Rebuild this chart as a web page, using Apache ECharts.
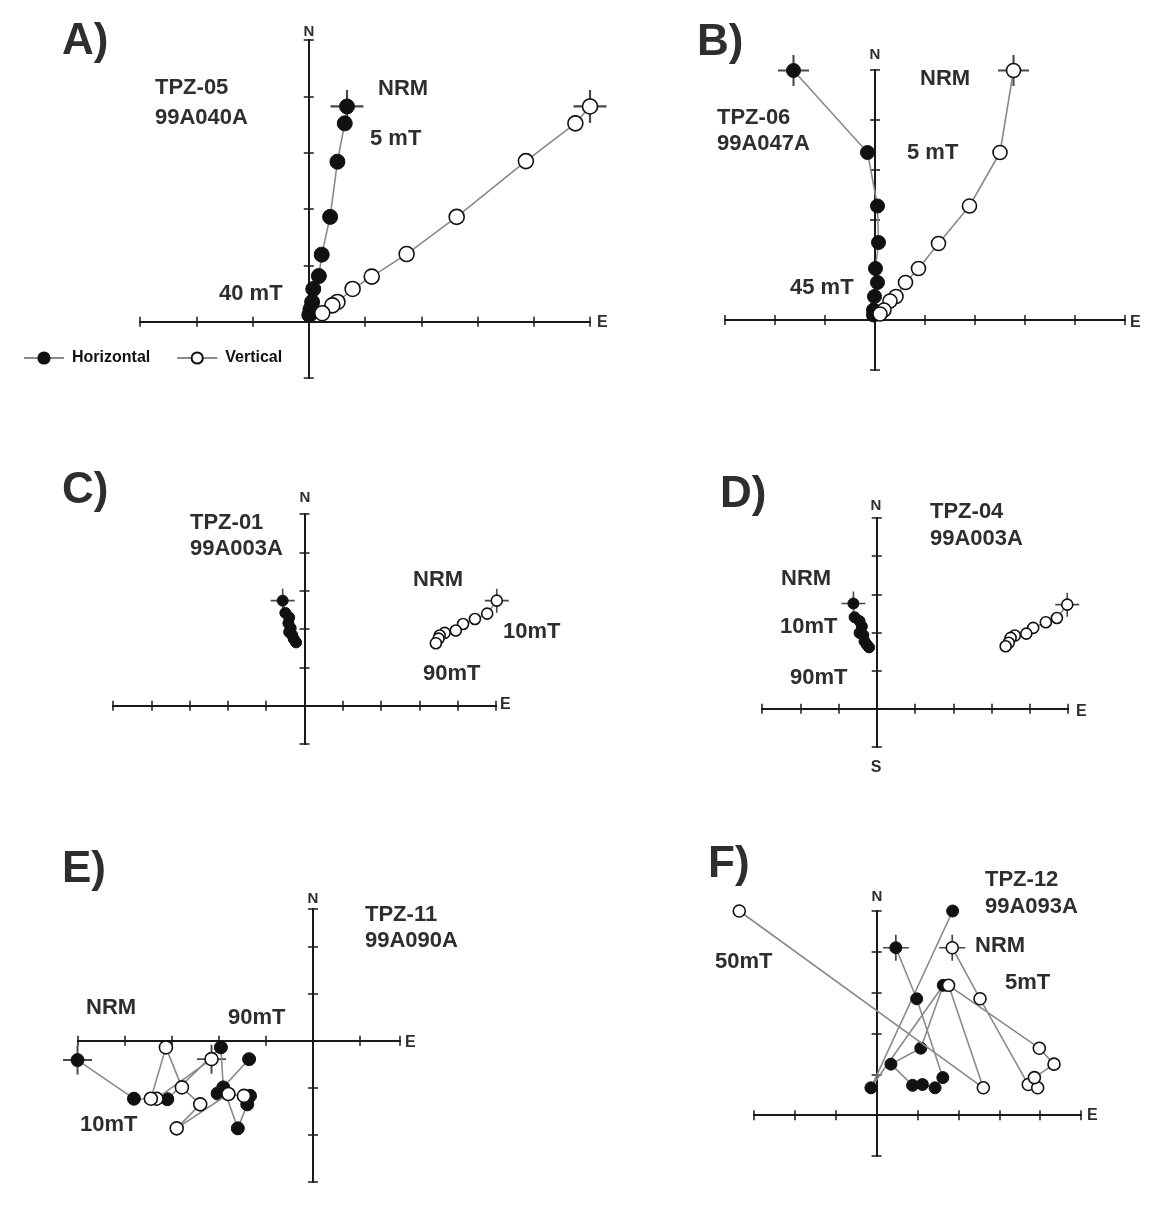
<!DOCTYPE html>
<html>
<head>
<meta charset="utf-8">
<script src="https://cdn.jsdelivr.net/npm/echarts@6/dist/echarts.min.js"></script>
<style>
  html, body { margin: 0; background: #fff; }
  #chart { width: 1164px; height: 1205px; }
</style>
</head>
<body>
<div id="chart"></div>
<script>
// values are in axis tick units, [east, north/up], first point = NRM
// A) TPZ-05 99A040A
var aHorizontal = [[0.68, 3.82], [0.64, 3.52], [0.51, 2.84], [0.38, 1.86], [0.23, 1.19], [0.18, 0.81], [0.08, 0.58], [0.06, 0.35], [0.03, 0.22], [0.01, 0.12]];
var aVertical = [[5.0, 3.82], [4.74, 3.52], [3.86, 2.85], [2.63, 1.86], [1.74, 1.20], [1.12, 0.80], [0.78, 0.58], [0.51, 0.35], [0.42, 0.29], [0.24, 0.15]];
// B) TPZ-06 99A047A
var bHorizontal = [[-1.63, 4.99], [-0.15, 3.35], [0.05, 2.28], [0.07, 1.55], [0.01, 1.03], [0.05, 0.75], [-0.01, 0.47], [-0.03, 0.20], [-0.03, 0.10]];
var bVertical = [[2.77, 4.99], [2.50, 3.35], [1.89, 2.28], [1.27, 1.53], [0.87, 1.03], [0.61, 0.75], [0.42, 0.47], [0.30, 0.38], [0.18, 0.20], [0.10, 0.12]];
// C) TPZ-01 99A003A
var cHorizontal = [[-0.57, 2.74], [-0.50, 2.42], [-0.40, 2.30], [-0.42, 2.15], [-0.36, 2.02], [-0.40, 1.92], [-0.32, 1.84], [-0.28, 1.74], [-0.22, 1.65]];
var cVertical = [[5.02, 2.74], [4.77, 2.40], [4.45, 2.26], [4.14, 2.13], [3.95, 1.96], [3.66, 1.90], [3.53, 1.83], [3.50, 1.75], [3.43, 1.63]];
// D) TPZ-04 99A003A
var dHorizontal = [[-0.61, 2.76], [-0.58, 2.40], [-0.45, 2.30], [-0.39, 2.16], [-0.45, 1.99], [-0.35, 1.93], [-0.32, 1.77], [-0.26, 1.68], [-0.20, 1.61]];
var dVertical = [[4.98, 2.73], [4.71, 2.38], [4.42, 2.27], [4.09, 2.12], [3.91, 1.97], [3.61, 1.92], [3.50, 1.86], [3.45, 1.73], [3.37, 1.64]];
// E) TPZ-11 99A090A
var eHorizontal = [[-5.01, -0.41], [-3.81, -1.23], [-3.10, -1.24], [-1.96, -0.14], [-1.91, -0.99], [-1.60, -1.86], [-1.40, -1.35], [-1.34, -1.17], [-2.03, -1.12], [-1.36, -0.39]];
var eVertical = [[-2.16, -0.39], [-3.33, -1.23], [-3.45, -1.23], [-3.13, -0.14], [-2.79, -0.99], [-2.40, -1.35], [-2.90, -1.86], [-1.80, -1.13], [-1.47, -1.17]];
// F) TPZ-12 99A093A
var fHorizontal = [[0.47, 4.10], [0.98, 2.85], [1.62, 0.92], [1.43, 0.67], [1.12, 0.75], [0.88, 0.73], [0.35, 1.25], [1.08, 1.64], [1.63, 3.18], [-0.14, 0.67], [1.86, 5.00]];
var fVertical = [[1.85, 4.10], [2.53, 2.85], [3.71, 0.75], [3.94, 0.67], [3.86, 0.92], [4.34, 1.25], [3.98, 1.64], [1.76, 3.18], [2.61, 0.67], [-3.36, 5.00]];

// axis extents per panel (tick units)
var xRanges = [[-3, 5], [-3, 5], [-5, 5], [-3, 5], [-5, 1.85], [-3, 5]];
var yRanges = [[-1, 5], [-1, 5], [-1, 5], [-1, 5], [-3, 2.8], [-1, 5]];

// page layout
var panels = [
  { grid: { left: 140, top: 40, width: 450, height: 338 }, h: aHorizontal, v: aVertical, size: 15 },
  { grid: { left: 725, top: 70, width: 400, height: 300 }, h: bHorizontal, v: bVertical, size: 14 },
  { grid: { left: 113, top: 514, width: 383, height: 230 }, h: cHorizontal, v: cVertical, size: 11 },
  { grid: { left: 762, top: 518, width: 306, height: 229 }, h: dHorizontal, v: dVertical, size: 11 },
  { grid: { left: 78, top: 909, width: 322, height: 273 }, h: eHorizontal, v: eVertical, size: 13 },
  { grid: { left: 754, top: 911, width: 327, height: 245 }, h: fHorizontal, v: fVertical, size: 12 }
];

var labels = [
  ['A)', 62, 42, 44], ['N', 309, 32, 15, 'center'], ['TPZ-05', 155, 88, 22], ['99A040A', 155, 118, 22],
  ['NRM', 378, 89, 22], ['5 mT', 370, 139, 22], ['40 mT', 219, 294, 22], ['E', 597, 323, 16],
  ['B)', 697, 43, 44], ['N', 875, 55, 15, 'center'], ['NRM', 920, 79, 22], ['TPZ-06', 717, 118, 22],
  ['99A047A', 717, 144, 22], ['5 mT', 907, 153, 22], ['45 mT', 790, 288, 22], ['E', 1130, 323, 16],
  ['C)', 62, 491, 44], ['N', 305, 498, 15, 'center'], ['TPZ-01', 190, 523, 22], ['99A003A', 190, 549, 22],
  ['NRM', 413, 580, 22], ['10mT', 503, 632, 22], ['90mT', 423, 674, 22], ['E', 500, 705, 16],
  ['D)', 720, 495, 44], ['N', 876, 506, 15, 'center'], ['TPZ-04', 930, 512, 22], ['99A003A', 930, 539, 22],
  ['NRM', 781, 579, 22], ['10mT', 780, 627, 22], ['90mT', 790, 678, 22], ['E', 1076, 712, 16], ['S', 876, 768, 16, 'center'],
  ['E)', 62, 870, 44], ['N', 313, 899, 15, 'center'], ['TPZ-11', 365, 915, 22], ['99A090A', 365, 941, 22],
  ['NRM', 86, 1008, 22], ['90mT', 228, 1018, 22], ['10mT', 80, 1125, 22], ['E', 405, 1043, 16],
  ['F)', 708, 865, 44], ['N', 877, 897, 15, 'center'], ['TPZ-12', 985, 880, 22], ['99A093A', 985, 907, 22],
  ['NRM', 975, 946, 22], ['5mT', 1005, 983, 22], ['50mT', 715, 962, 22], ['E', 1087, 1116, 16]
];

var FONT = '"Liberation Sans", Arial, Helvetica, sans-serif';
var CROSS = 'path://M0,14L30,14L30,16L0,16ZM14,0L16,0L16,30L14,30Z';
var PAD = 0.4; // extra units around each panel so marks past the axis ends are not clipped

var chart = echarts.init(document.getElementById('chart'));

function makeAxis(g, range, pos) {
  return {
    gridIndex: g,
    type: 'value',
    position: pos,
    min: range[0],
    max: range[1],
    interval: 1,
    axisLine: { onZero: true, lineStyle: { color: '#1a1a1a', width: 2 } },
    axisTick: { show: true, length: 5, lineStyle: { color: '#1a1a1a', width: 1.5 } },
    axisLabel: { show: false },
    splitLine: { show: false }
  };
}

function hiddenAxis(g, range) {
  return { gridIndex: g, type: 'value', min: range[0] - PAD, max: range[1] + PAD, show: false };
}

var grids = [], xAxes = [], yAxes = [], series = [];
panels.forEach(function (p, i) {
  var g = p.grid;
  var ux = g.width / (xRanges[i][1] - xRanges[i][0]);
  var uy = g.height / (yRanges[i][1] - yRanges[i][0]);
  var axisGrid = grids.length;
  grids.push(Object.assign({ outerBoundsMode: 'none' }, g));
  var dataGrid = grids.length;
  grids.push({
    outerBoundsMode: 'none',
    left: g.left - PAD * ux, top: g.top - PAD * uy,
    width: g.width + 2 * PAD * ux, height: g.height + 2 * PAD * uy
  });

  // two axes each way so the ticks cross the lines
  xAxes.push(makeAxis(axisGrid, xRanges[i], 'bottom'), makeAxis(axisGrid, xRanges[i], 'top'));
  yAxes.push(makeAxis(axisGrid, yRanges[i], 'left'), makeAxis(axisGrid, yRanges[i], 'right'));
  var xi = xAxes.length, yi = yAxes.length;
  xAxes.push(hiddenAxis(dataGrid, xRanges[i]));
  yAxes.push(hiddenAxis(dataGrid, yRanges[i]));

  // NRM crosses
  series.push({
    name: 'nrm',
    type: 'scatter',
    xAxisIndex: xi, yAxisIndex: yi,
    symbol: CROSS,
    symbolSize: Math.round(p.size * 2.2),
    itemStyle: { color: '#1a1a1a' },
    data: [p.h[0], p.v[0]],
    silent: true,
    z: 1
  });
  series.push({
    name: 'Horizontal',
    type: 'line',
    xAxisIndex: xi, yAxisIndex: yi,
    data: p.h,
    symbol: 'circle',
    symbolSize: p.size,
    showAllSymbol: true,
    lineStyle: { color: '#8a8a8a', width: 1.6 },
    itemStyle: { color: '#111', borderColor: '#111', borderWidth: 1 },
    z: 2
  });
  series.push({
    name: 'Vertical',
    type: 'line',
    xAxisIndex: xi, yAxisIndex: yi,
    data: p.v,
    symbol: 'circle',
    symbolSize: p.size,
    showAllSymbol: true,
    lineStyle: { color: '#8a8a8a', width: 1.6 },
    itemStyle: { color: '#fff', borderColor: '#111', borderWidth: 1.6 },
    z: 3
  });
});

var graphics = labels.map(function (l) {
  return {
    type: 'text',
    x: l[1],
    y: l[2],
    style: {
      text: l[0],
      font: 'bold ' + l[3] + 'px ' + FONT,
      fill: '#2e2e2e',
      align: l[4] || 'left',
      verticalAlign: 'middle'
    }
  };
});

chart.setOption({
  animation: false,
  textStyle: { fontFamily: FONT },
  grid: grids,
  xAxis: xAxes,
  yAxis: yAxes,
  legend: {
    data: ['Horizontal', 'Vertical'],
    left: 18,
    top: 345,
    itemWidth: 40,
    itemHeight: 14,
    itemGap: 26,
    selectedMode: false,
    textStyle: { fontFamily: FONT, fontWeight: 'bold', fontSize: 16, color: '#111', padding: [0, 0, 0, 3] }
  },
  graphic: graphics,
  series: series
});
</script>
</body>
</html>
